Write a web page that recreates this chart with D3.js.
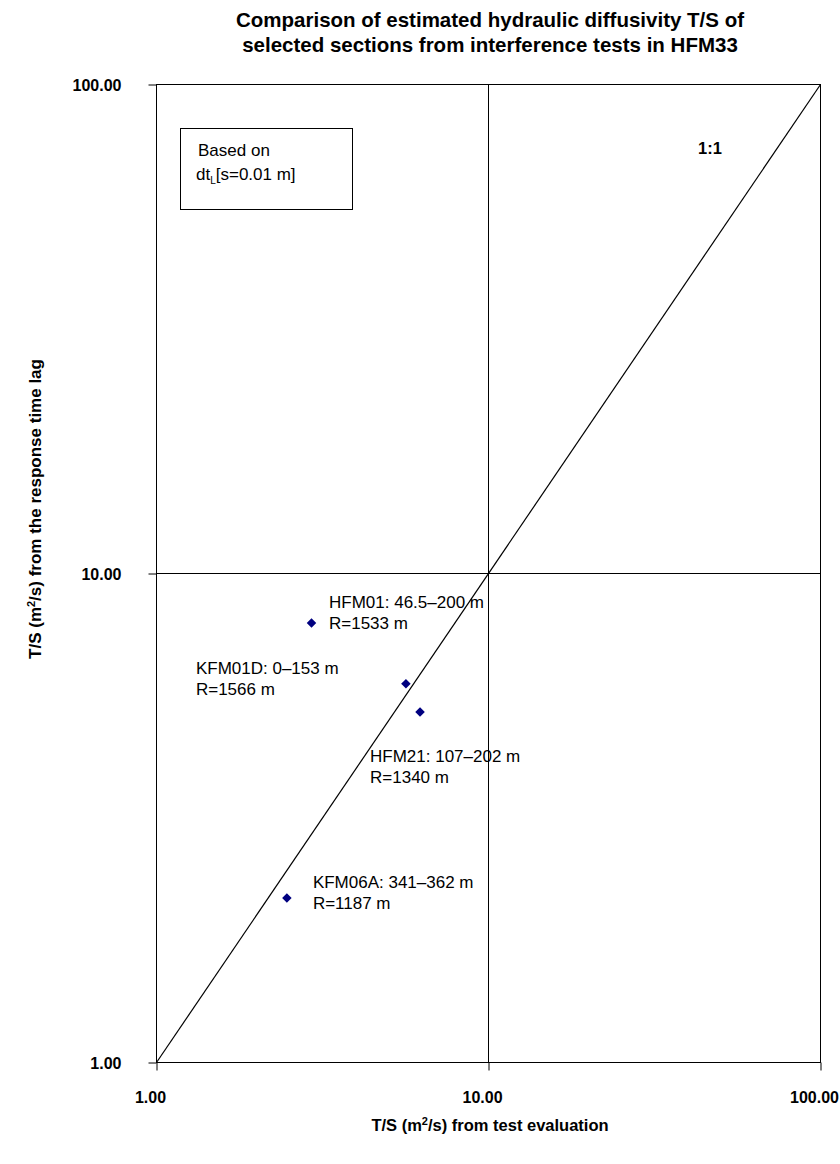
<!DOCTYPE html>
<html><head><meta charset="utf-8">
<script src="https://cdn.jsdelivr.net/npm/d3@7"></script>
<style>body{margin:0;background:#fff;} svg{display:block;font-family:"Liberation Sans",Arial,sans-serif;}</style>
</head><body>
<script>
const names = ["HFM01: 46.5–200 m","KFM01D: 0–153 m","HFM21: 107–202 m","KFM06A: 341–362 m"];
const radii = ["R=1533 m","R=1566 m","R=1340 m","R=1187 m"];
const xVals = [2.93, 5.64, 6.22, 2.47];
const yVals = [7.92, 5.95, 5.21, 2.17];
const ticks = [1, 10, 100];
const tickLabels = ["1.00","10.00","100.00"];
// label offsets relative to each point (layout, not data)
const labelOffsets = [[17.5,-15.5],[-210,-10],[-50,50],[26,-10]];

const W=840,H=1164;
const svg=d3.select("body").append("svg").attr("width",W).attr("height",H);
const x=d3.scaleLog().domain([1,100]).range([156.5,820.5]);
const y=d3.scaleLog().domain([1,100]).range([1062.5,84.5]);
const tf="Liberation Sans, Arial, sans-serif";

// title
svg.append("text").attr("x",490).attr("y",27).attr("text-anchor","middle")
  .attr("font-weight","bold").attr("font-size",20.5).text("Comparison of estimated hydraulic diffusivity T/S of");
svg.append("text").attr("x",490).attr("y",52).attr("text-anchor","middle")
  .attr("font-weight","bold").attr("font-size",20.5).text("selected sections from interference tests in HFM33");

// gridlines
svg.append("line").attr("x1",x(10)).attr("x2",x(10)).attr("y1",y(1)).attr("y2",y(100)).attr("stroke","#000");
svg.append("line").attr("x1",x(1)).attr("x2",x(100)).attr("y1",y(10)).attr("y2",y(10)).attr("stroke","#000");
// frame
svg.append("rect").attr("x",x(1)).attr("y",y(100)).attr("width",x(100)-x(1)).attr("height",y(1)-y(100))
  .attr("fill","none").attr("stroke","#000");

// axes
const xAxis=d3.axisBottom(x).tickValues(ticks).tickFormat((d,i)=>tickLabels[i]).tickSize(8).tickPadding(21);
const gx=svg.append("g").attr("transform",`translate(0,${y(1)})`).call(xAxis);
gx.select(".domain").remove();
gx.selectAll("text").attr("font-size",16).attr("font-weight","bold").attr("font-family",tf).attr("fill","#000").attr("dx",-6.5);
const yAxis=d3.axisLeft(y).tickValues(ticks).tickFormat((d,i)=>tickLabels[i]).tickSize(8).tickPadding(27);
const gy=svg.append("g").attr("transform",`translate(${x(1)},0)`).call(yAxis);
gy.select(".domain").remove();
gy.selectAll("text").attr("font-size",16).attr("font-weight","bold").attr("font-family",tf).attr("fill","#000").attr("dy","0.4em");

// 1:1 line
svg.append("line").attr("x1",x(1)).attr("y1",y(1)).attr("x2",x(100)).attr("y2",y(100)).attr("stroke","#000").attr("stroke-width",1.2);
svg.append("text").attr("x",698).attr("y",154).attr("font-weight","bold").attr("font-size",16.5).text("1:1");

// note box
svg.append("rect").attr("x",180.5).attr("y",128.5).attr("width",172).attr("height",81).attr("fill","#fff").attr("stroke","#000");
svg.append("text").attr("x",198).attr("y",156).attr("font-size",17).text("Based on");
const t2=svg.append("text").attr("x",196).attr("y",180).attr("font-size",17);
t2.append("tspan").text("dt");
t2.append("tspan").attr("font-size",10).attr("dy",4).text("L");
t2.append("tspan").attr("dy",-4).text("[s=0.01 m]");

// points
const data=names.map((n,i)=>({n,r:radii[i],x:xVals[i],y:yVals[i],o:labelOffsets[i]}));
svg.selectAll("path.pt").data(data).enter().append("path").attr("class","pt")
  .attr("d",d3.symbol().type(d3.symbolDiamond2).size(58))
  .attr("transform",d=>`translate(${x(d.x)},${y(d.y)})`).attr("fill","#000080");
const lab=svg.selectAll("text.lab").data(data).enter().append("text").attr("class","lab")
  .attr("font-size",17).attr("x",d=>x(d.x)+d.o[0]).attr("y",d=>y(d.y)+d.o[1]);
lab.append("tspan").text(d=>d.n);
lab.append("tspan").attr("x",d=>x(d.x)+d.o[0]).attr("dy",21.5).text(d=>d.r);

// axis titles
svg.append("text").attr("x",490).attr("y",1131).attr("text-anchor","middle").attr("font-weight","bold").attr("font-size",16.5)
  .html("T/S (m<tspan font-size='11' dy='-6'>2</tspan><tspan dy='6'>/s) from test evaluation</tspan>");
svg.append("text").attr("transform","translate(41,509) rotate(-90)").attr("text-anchor","middle").attr("font-weight","bold").attr("font-size",17)
  .html("T/S (m<tspan font-size='11' dy='-6'>2</tspan><tspan dy='6'>/s) from the response time lag</tspan>");
</script>
</body></html>
